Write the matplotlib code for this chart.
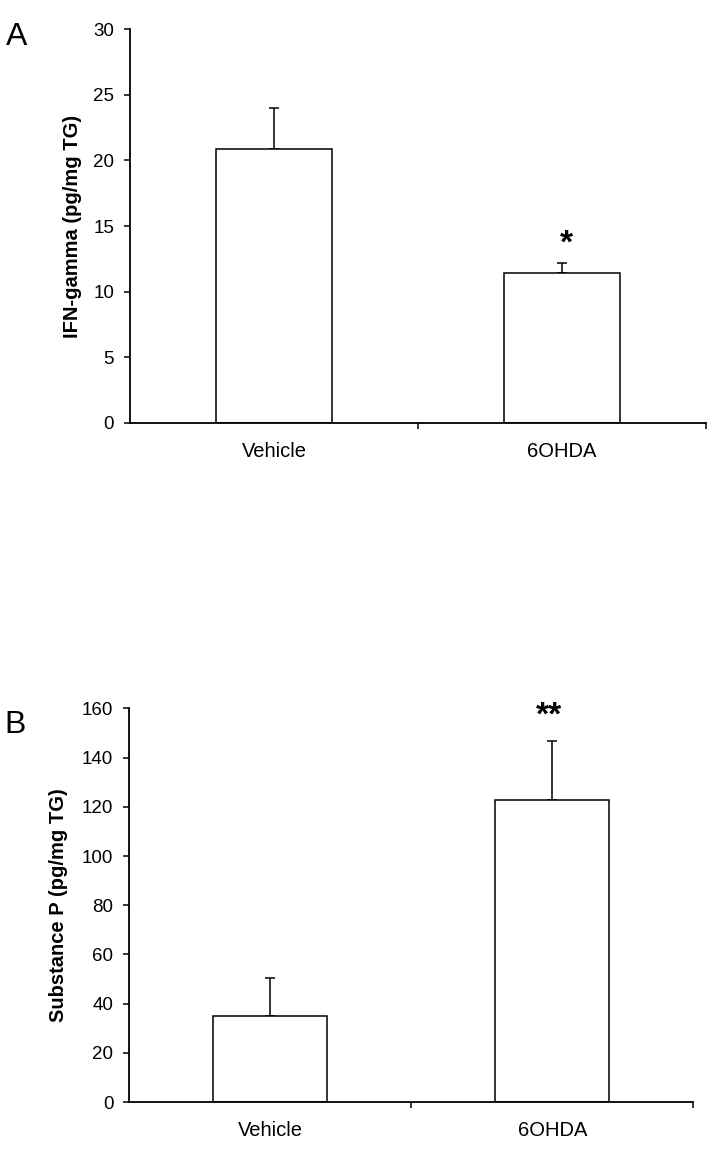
import matplotlib
matplotlib.use("Agg")
import matplotlib.pyplot as plt
import numpy as np

plt.rcParams['font.family'] = ['Liberation Sans', 'DejaVu Sans']

categories = ["Vehicle", "6OHDA"]

ifn_means = [20.85, 11.45]
ifn_errs = [3.15, 0.75]
ifn_ticks = [0, 5, 10, 15, 20, 25, 30]
ifn_stars = ["", "*"]

sp_means = [34.9, 122.6]
sp_errs = [15.4, 24.1]
sp_ticks = [0, 20, 40, 60, 80, 100, 120, 140, 160]
sp_stars = ["", "**"]

fig = plt.figure(figsize=(7.28, 11.5), dpi=100)

def panel(rect, means, errs, ticks, ylabel, stars, label_x, star_off, star_dx):
    ax = fig.add_axes(rect)
    x = np.arange(len(categories))
    ax.bar(x, means, width=0.405, color="white", edgecolor="black", linewidth=1.1, zorder=2)
    ax.errorbar(x, means, yerr=[np.zeros(len(errs)), errs], fmt="none",
                ecolor="black", elinewidth=1.1, capsize=3.3, capthick=1.1, zorder=1)
    ax.set_xlim(-0.5, 1.5)
    ax.set_ylim(ticks[0], ticks[-1])
    ax.set_yticks(ticks)
    ax.set_xticks(x)
    ax.set_xticklabels(categories, fontsize=14.5)
    ax.set_xticks([0.5, 1.5], minor=True)
    ax.tick_params(axis="x", which="major", length=0, pad=14)
    ax.tick_params(axis="x", which="minor", length=4, width=1.1, direction="out")
    ax.tick_params(axis="y", length=4.5, width=1.1, direction="out", labelsize=13.5, pad=7)
    for s in ["top", "right"]:
        ax.spines[s].set_visible(False)
    for s in ["left", "bottom"]:
        ax.spines[s].set_linewidth(1.3)
    ax.set_ylabel(ylabel, fontsize=14.5, fontweight="bold", family=['Liberation Sans Narrow', 'Liberation Sans'])
    ax.yaxis.set_label_coords(label_x, 0.5)
    for i, s in enumerate(stars):
        if s:
            ax.text(x[i] + star_dx, means[i] + errs[i] + star_off, s, ha="center", va="baseline",
                    fontsize=24, fontweight="bold")
    return ax

panel([0.1786, 0.6324, 0.7908, 0.3421], ifn_means, ifn_errs, ifn_ticks,
      "IFN-gamma (pg/mg TG)", ifn_stars, -0.083, 0.75, 0.015)
panel([0.1776, 0.0417, 0.7747, 0.3423], sp_means, sp_errs, sp_ticks,
      "Substance P (pg/mg TG)", sp_stars, -0.109, 6.6, -0.01)

fig.text(0.008, 0.9609, "A", fontsize=23, va="baseline", ha="left")
fig.text(0.006, 0.3629, "B", fontsize=23, va="baseline", ha="left")

fig.savefig("out.png", dpi=100)
